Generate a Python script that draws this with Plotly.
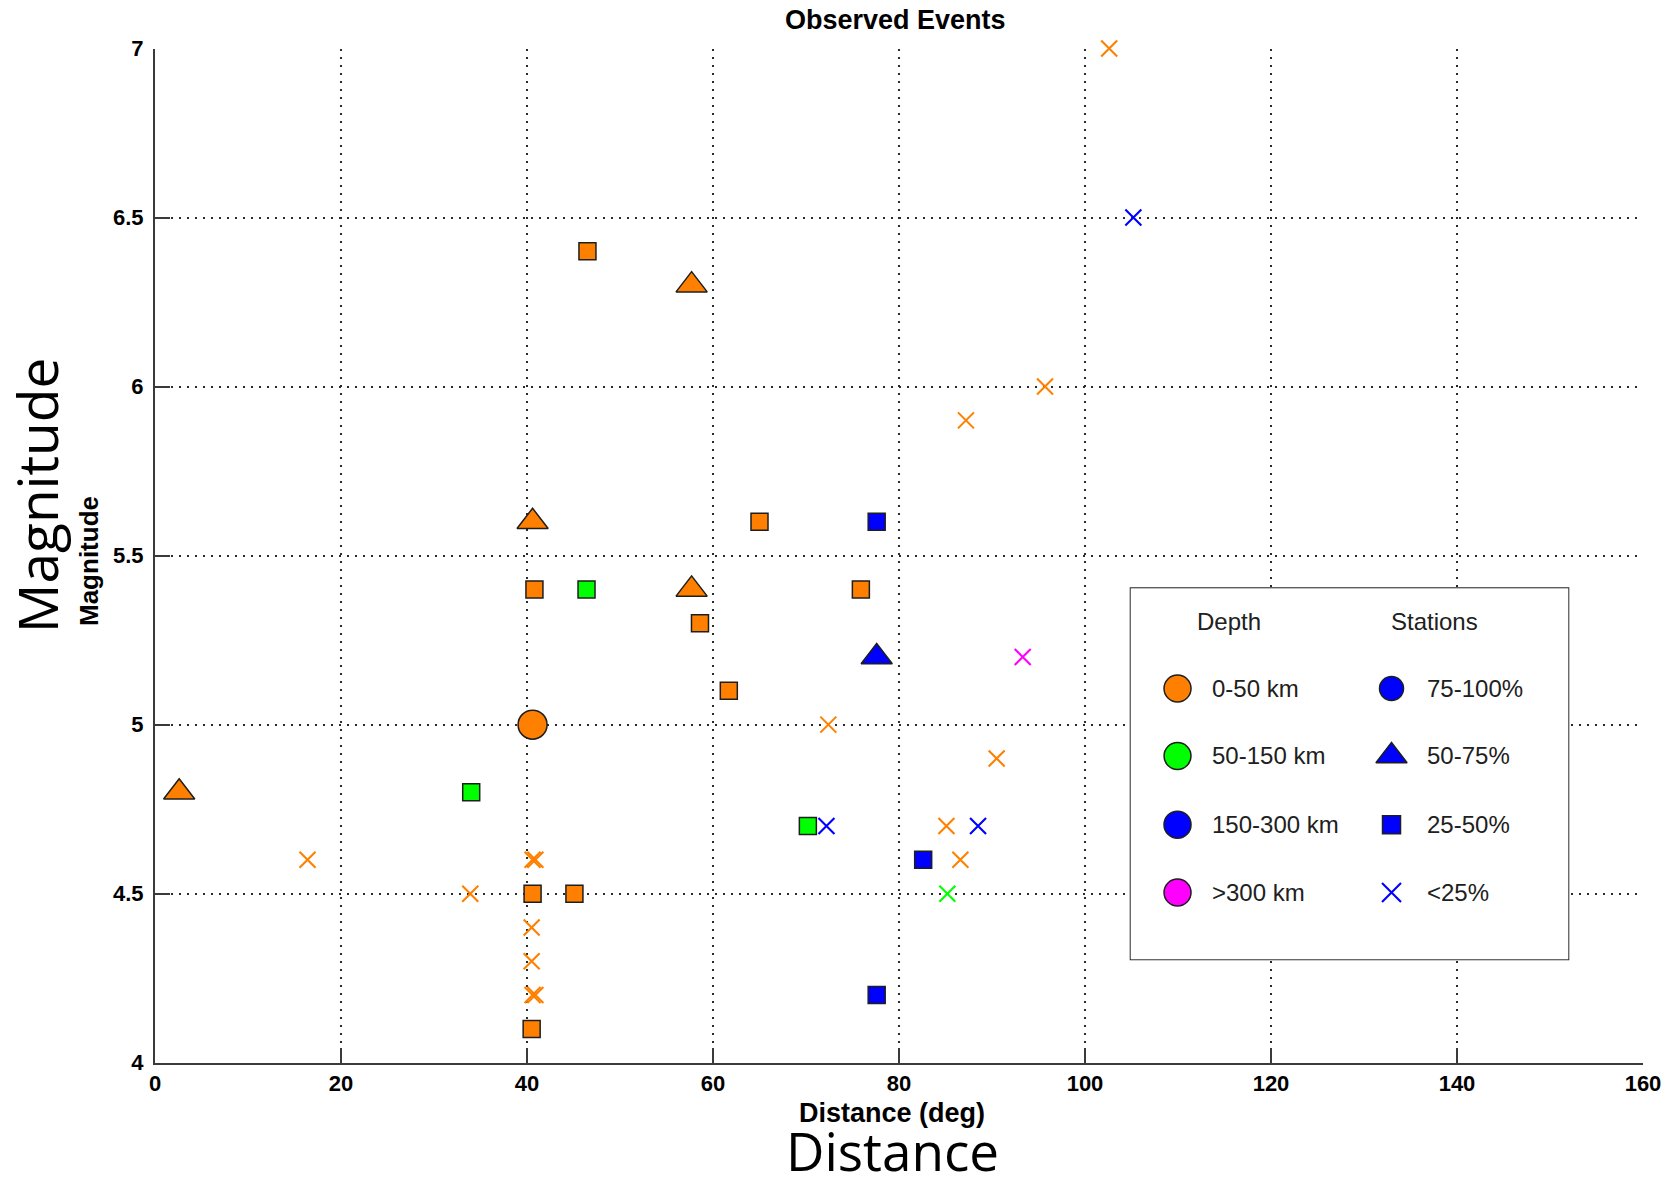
import plotly.graph_objects as go

W, H = 1677, 1179

# ---- event catalogue, split by hypocentral depth class ----
# distance in degrees, magnitude, and the share of stations that recorded the event
shallow_dist = [102.6, 95.7, 87.2, 46.5, 57.7, 40.6, 65.0, 40.8, 57.7, 75.9, 58.6, 61.7,
                40.6, 72.4, 90.5, 2.6, 85.1, 16.4, 40.6, 40.9, 86.6, 33.9, 40.6, 45.1,
                40.5, 40.5, 40.6, 40.9, 40.5]
shallow_mag = [7.0, 6.0, 5.9, 6.4, 6.3, 5.6, 5.6, 5.4, 5.4, 5.4, 5.3, 5.1,
               5.0, 5.0, 4.9, 4.8, 4.7, 4.6, 4.6, 4.6, 4.6, 4.5, 4.5, 4.5,
               4.4, 4.3, 4.2, 4.2, 4.1]
shallow_cov = ["<25%", "<25%", "<25%", "25-50%", "50-75%", "50-75%", "25-50%", "25-50%",
               "50-75%", "25-50%", "25-50%", "25-50%", "75-100%", "<25%", "<25%", "50-75%",
               "<25%", "<25%", "<25%", "<25%", "<25%", "<25%", "25-50%", "25-50%",
               "<25%", "<25%", "<25%", "<25%", "25-50%"]

intermediate_dist = [46.4, 34.0, 70.2, 85.2]
intermediate_mag = [5.4, 4.8, 4.7, 4.5]
intermediate_cov = ["25-50%", "25-50%", "25-50%", "<25%"]

deep_dist = [105.2, 77.6, 77.6, 72.2, 88.5, 82.6, 77.6]
deep_mag = [6.5, 5.6, 5.2, 4.7, 4.7, 4.6, 4.2]
deep_cov = ["<25%", "25-50%", "50-75%", "<25%", "<25%", "25-50%", "25-50%"]

very_deep_dist = [93.3]
very_deep_mag = [5.2]
very_deep_cov = ["<25%"]

depth_labels = ["0-50 km", "50-150 km", "150-300 km", ">300 km"]
depth_colors = ["#FF8000", "#00FF00", "#0000FF", "#FF00FF"]
coverage_labels = ["75-100%", "50-75%", "25-50%", "<25%"]

x_ticks = [0, 20, 40, 60, 80, 100, 120, 140, 160]
y_ticks = [4, 4.5, 5, 5.5, 6, 6.5, 7]
y_tick_text = ["4", "4.5", "5", "5.5", "6", "6.5", "7"]

# marker style for each coverage class: (symbol, size in the plot, size in the key)
coverage_style = {
    "75-100%": ("circle", 29, 24),
    "50-75%": ("triangle-up", 27, 27),
    "25-50%": ("square", 17, 18),
    "<25%": ("x-thin", 16, 19),
}

groups = [
    (shallow_dist, shallow_mag, shallow_cov),
    (intermediate_dist, intermediate_mag, intermediate_cov),
    (deep_dist, deep_mag, deep_cov),
    (very_deep_dist, very_deep_mag, very_deep_cov),
]

OUTLINE = "#1e1e1e"
AXIS = "#3a3a3a"
TXT_FONT = "Liberation Sans, Arial, Helvetica, sans-serif"
BIG_FONT = "Open Sans, Noto Sans, sans-serif"


def marker_for(symbol, size, color):
    if symbol == "x-thin":
        return dict(symbol=symbol, size=size, color=color,
                    line=dict(color=color, width=2.1))
    return dict(symbol=symbol, size=size, color=color,
                line=dict(color=OUTLINE, width=1.5))


fig = go.Figure()

# data points: one trace per depth class / coverage class combination
for (dist, mag, cov), dlabel, color in zip(groups, depth_labels, depth_colors):
    for clabel in coverage_labels:
        xs = [d for d, c in zip(dist, cov) if c == clabel]
        ys = [m for m, c in zip(mag, cov) if c == clabel]
        if not xs:
            continue
        symbol, size, _ = coverage_style[clabel]
        fig.add_trace(go.Scatter(
            x=xs, y=ys, mode="markers", name=f"{dlabel}, {clabel}",
            marker=marker_for(symbol, size, color),
            showlegend=False, cliponaxis=False, xaxis="x", yaxis="y",
        ))

# ---- key box drawn on its own small subplot ----
key_col_marker = [0.107, 0.596]
key_col_text = [0.181, 0.673]
key_head_x = [0.225, 0.695]
key_head_y = 0.09
key_rows_y = [0.270, 0.452, 0.637, 0.820]

fig.add_trace(go.Scatter(
    x=[key_col_marker[0]] * len(depth_labels), y=key_rows_y, mode="markers",
    marker=dict(symbol="circle", size=27, color=depth_colors,
                line=dict(color=OUTLINE, width=1.5)),
    showlegend=False, hoverinfo="skip", xaxis="x2", yaxis="y2",
))
for clabel, ry in zip(coverage_labels, key_rows_y):
    symbol, _, ksize = coverage_style[clabel]
    fig.add_trace(go.Scatter(
        x=[key_col_marker[1]], y=[ry], mode="markers",
        marker=marker_for(symbol, ksize, "#0000FF"),
        showlegend=False, hoverinfo="skip", xaxis="x2", yaxis="y2",
    ))

annotations = []
for hx, htxt in zip(key_head_x, ["Depth", "Stations"]):
    annotations.append(dict(x=hx, y=key_head_y, xref="x2", yref="y2", text=htxt,
                            showarrow=False, xanchor="center", yanchor="middle",
                            font=dict(family=TXT_FONT, size=24, color="#202020")))
for col, labels in zip(key_col_text, [depth_labels, coverage_labels]):
    for lbl, ry in zip(labels, key_rows_y):
        annotations.append(dict(x=col, y=ry, xref="x2", yref="y2",
                                text=lbl.replace("<", "&lt;").replace(">", "&gt;"),
                                showarrow=False, xanchor="left", yanchor="middle",
                                font=dict(family=TXT_FONT, size=24, color="#202020")))


def px(xp):
    return xp / W


def py(yp):
    return 1 - yp / H


# titles
annotations += [
    dict(x=px(895), y=py(20), xref="paper", yref="paper", text="Observed Events",
         showarrow=False, xanchor="center", yanchor="middle",
         font=dict(family=TXT_FONT, size=27, color="black", weight="bold")),
    dict(x=px(89), y=py(561), xref="paper", yref="paper", text="Magnitude",
         textangle=-90, showarrow=False, xanchor="center", yanchor="middle",
         font=dict(family=TXT_FONT, size=26, color="black", weight="bold")),
    dict(x=px(892), y=py(1113), xref="paper", yref="paper", text="Distance (deg)",
         showarrow=False, xanchor="center", yanchor="middle",
         font=dict(family=TXT_FONT, size=27, color="black", weight="bold")),
    dict(x=px(36), y=py(496), xref="paper", yref="paper", text="Magnitude",
         textangle=-90, showarrow=False, xanchor="center", yanchor="middle",
         font=dict(family=BIG_FONT, size=55, color="black")),
    # "Distance" has no descenders, so a box just tall enough for the capitals is used
    dict(x=px(892), y=py(1150), xref="paper", yref="paper", text="Distance",
         showarrow=False, xanchor="center", yanchor="middle", height=44,
         font=dict(family=BIG_FONT, size=53, color="black")),
]

grid_common = dict(
    showgrid=True, gridcolor="#2a2a2a", gridwidth=1.6, griddash="2px,6px",
    zeroline=False, showline=True, linecolor=AXIS, linewidth=2,
    ticks="inside", ticklen=15, tickwidth=2, tickcolor=AXIS,
    tickfont=dict(family=TXT_FONT, size=22, color="black", weight="bold"),
    automargin=False,
)

fig.update_layout(
    template="none",
    width=W, height=H,
    margin=dict(l=0, r=0, t=0, b=0, pad=0, autoexpand=False),
    paper_bgcolor="white", plot_bgcolor="white",
    showlegend=False,
    xaxis=dict(domain=[px(155), px(1643)], range=[0, 160],
               tickvals=x_ticks, ticktext=[str(v) for v in x_ticks],
               anchor="y", ticklabelstandoff=0, **grid_common),
    yaxis=dict(domain=[py(1062.7), py(48.5)], range=[4, 7],
               tickvals=y_ticks, ticktext=y_tick_text,
               anchor="x", ticklabelstandoff=5, **grid_common),
    xaxis2=dict(domain=[px(1130.7), px(1568.3)], range=[0, 1], visible=False,
                anchor="y2", fixedrange=True, automargin=False),
    yaxis2=dict(domain=[py(959.3), py(588.3)], range=[1, 0], visible=False,
                anchor="x2", fixedrange=True, automargin=False),
    shapes=[dict(type="rect", xref="x2 domain", yref="y2 domain",
                 x0=0, x1=1, y0=0, y1=1, layer="below",
                 fillcolor="white", line=dict(color="#2a2a2a", width=2))],
    annotations=annotations,
)

fig.write_html("out.html")
